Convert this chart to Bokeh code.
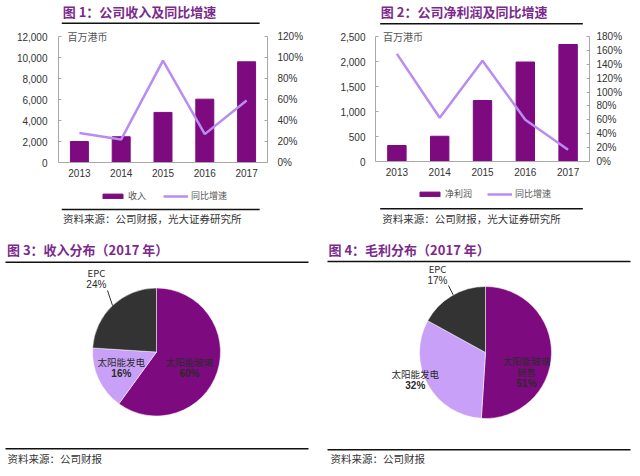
import math
from bokeh.plotting import figure
from bokeh.models import (Range1d, FactorRange, LinearAxis, NumeralTickFormatter,
                          FixedTicker, Legend, LegendItem, Span)
from bokeh.layouts import column, row
from bokeh.embed import file_html
from bokeh.resources import INLINE
from bokeh.core.properties import value

# ---------------- data ----------------
years = ["2013", "2014", "2015", "2016", "2017"]
revenue = [2000, 2450, 4770, 6030, 9590]            # 百万港币
revenue_growth = [0.28, 0.22, 0.97, 0.27, 0.59]
profit = [320, 505, 1220, 1990, 2340]               # 百万港币
profit_growth = [1.55, 0.63, 1.45, 0.60, 0.17]

revenue_ticks = [0, 2000, 4000, 6000, 8000, 10000, 12000]
revenue_pct_ticks = [0, 0.2, 0.4, 0.6, 0.8, 1.0, 1.2]
profit_ticks = [0, 500, 1000, 1500, 2000, 2500]
profit_pct_ticks = [0, 0.2, 0.4, 0.6, 0.8, 1.0, 1.2, 1.4, 1.6, 1.8]

rev_mix_names = [["太阳能玻璃"], ["太阳能发电"], ["EPC"]]
rev_mix = [60, 16, 24]
gp_mix_names = [["太阳能玻璃", "销售"], ["太阳能发电"], ["EPC"]]
gp_mix = [51, 32, 17]

titles = ["图 1：公司收入及同比增速", "图 2：公司净利润及同比增速",
          "图 3：收入分布（2017 年）", "图 4：毛利分布（2017 年）"]
sources = ["资料来源：公司财报，光大证券研究所", "资料来源：公司财报"]
unit_label = "百万港币"
series_names = ["收入", "净利润", "同比增速"]

# ---------------- style ----------------
F_CJK = "Noto Sans CJK SC"
F_NUM = "Liberation Sans"
PURPLE = "#7E0A80"
LINE_LAV = "#B98CF2"
PIE_LAV = "#C9A0F8"
DARK = "#333333"
TITLE_C = "#7B2A8C"
AXIS_C = "#A8A8A8"


def strip(W, H):
    p = figure(width=W, height=H, x_range=Range1d(0, W), y_range=Range1d(0, H),
               output_backend="svg", toolbar_location=None,
               x_axis_location=None, y_axis_location=None, min_border=0)
    p.outline_line_color = None
    p.grid.visible = False
    return p


def add_text(p, x, y, s, size, font=F_CJK, color="#333333", bold=False, align="left"):
    p.text(x=[x], y=[y], text=[s], text_font=value(font), text_font_size=value(size),
           text_font_style="bold" if bold else "normal", text_color=color,
           text_align=align, text_baseline="middle")


def rule(p, x0, x1, y, w=1.5):
    p.line(x=[x0, x1], y=[y, y], line_color="#111111", line_width=w)


def header(W, H, title, tx, ty, rx0, rx1, ry):
    p = strip(W, H)
    add_text(p, tx, H - ty, title, "13px", color=TITLE_C, bold=True)
    rule(p, rx0, rx1, H - ry)
    return p


def footer(W, H, src, tx, ty, rx0, rx1, ry):
    p = strip(W, H)
    rule(p, rx0, rx1, H - ry)
    add_text(p, tx, H - ty, src, "10.5px", color="#333333")
    return p


def bar_chart(W, H, vals, growth, yticks, pticks, bar_name, left, right,
              top_pad, plot_px, bottom_px, lstand, rstand, unit_off, lab_dy,
              leg_x, leg_y):
    # frame spans whole height (top border 1); data area is plot_px tall
    ymax, pmax = yticks[-1], pticks[-1]
    uy = ymax / plot_px
    up = pmax / plot_px
    p = figure(width=W, height=H, x_range=FactorRange(*years),
               y_range=Range1d(-bottom_px * uy, ymax + top_pad * uy),
               output_backend="svg", toolbar_location=None, x_axis_location=None,
               min_border_left=left, min_border_right=right,
               min_border_top=1, min_border_bottom=0)
    p.extra_y_ranges = {"pct": Range1d(-bottom_px * up, pmax + top_pad * up)}
    p.outline_line_color = None
    p.grid.visible = False
    p.x_range.range_padding = 0

    bars = p.vbar(x=years, top=vals, width=0.43, fill_color=PURPLE, line_color=PURPLE)
    ln = p.line(x=years, y=growth, y_range_name="pct", line_color=LINE_LAV, line_width=2.5)

    ya = p.yaxis[0]
    ya.ticker = FixedTicker(ticks=yticks)
    ya.formatter = NumeralTickFormatter(format="0,0")
    ya.bounds = (0, ymax)

    ra = LinearAxis(y_range_name="pct", ticker=FixedTicker(ticks=pticks),
                    formatter=NumeralTickFormatter(format="0%"), bounds=(0, pmax))
    p.add_layout(ra, "right")

    for ax, st in ((ya, lstand), (ra, rstand)):
        ax.axis_line_color = AXIS_C
        ax.major_tick_line_color = AXIS_C
        ax.major_tick_out = 0
        ax.major_tick_in = 3
        ax.minor_tick_line_color = None
        ax.major_label_standoff = st
        ax.major_label_text_font = F_NUM
        ax.major_label_text_font_size = "10px"
        ax.major_label_text_color = "#333333"

    # category axis line and labels (drawn through the categorical scale)
    p.add_layout(Span(location=0, dimension="width", line_color=AXIS_C, line_width=1))
    p.text(x=years, y=[-lab_dy * uy] * len(years), text=years,
           text_font=value(F_NUM), text_font_size=value("10px"), text_color="#333333",
           text_align="center", text_baseline="middle")

    p.text(x=[years[0]], y=[ymax], text=[unit_label], x_offset=unit_off,
           text_font=value(F_CJK), text_font_size=value("10px"), text_color="#555555",
           text_align="left", text_baseline="middle")

    legend = Legend(items=[LegendItem(label=bar_name, renderers=[bars]),
                           LegendItem(label=series_names[2], renderers=[ln])],
                    orientation="horizontal", location=(leg_x, leg_y),
                    glyph_width=25, glyph_height=6, label_height=10, label_standoff=3,
                    spacing=15, margin=0, padding=3, border_line_color=None,
                    background_fill_alpha=0, label_text_font=F_CJK,
                    label_text_font_size="9px", label_text_color="#555555")
    p.add_layout(legend, "center")
    return p


def pie_panel(W, H, title, tx, names, vals, cx, cy_local, r, fr, da, leader,
              t_y, r_y, s_y, sr_y, rx0, rx1, sx, src):
    p = strip(W, H)
    add_text(p, tx, H - t_y, title, "13px", color=TITLE_C, bold=True)
    rule(p, rx0, rx1, H - r_y)
    rule(p, rx0, rx1, H - sr_y)
    add_text(p, sx, H - s_y, src, "10.5px")

    cy = H - cy_local
    tot = float(sum(vals))
    starts, ends = [], []
    acc = 0.0
    for v in vals:
        starts.append(math.pi / 2 - 2 * math.pi * acc / tot)
        acc += v
        ends.append(math.pi / 2 - 2 * math.pi * acc / tot)
    p.wedge(x=[cx] * len(vals), y=[cy] * len(vals), radius=r, start_angle=starts,
            end_angle=ends, direction="clock",
            fill_color=[PURPLE, PIE_LAV, DARK], line_color="white", line_width=0.5)

    lh = 11.5
    for i, v in enumerate(vals):
        mid = (starts[i] + ends[i]) / 2
        a = mid + math.radians(da[i])
        bx = cx + r * fr[i] * math.cos(a)
        by = cy + r * fr[i] * math.sin(a)
        lines = names[i] + ["%d%%" % v]
        n = len(lines)
        last = i == len(vals) - 1
        for j, s in enumerate(lines):
            yy = by + (n - 1) / 2 * lh - j * lh
            is_pct = j == n - 1
            font = F_NUM if is_pct else F_CJK
            size = "10px" if is_pct else "9.5px"
            add_text(p, bx, yy, s, size, font=font, color="#2a2a2a", align="center",
                     bold=(is_pct and not last))
        if last:
            a1 = mid + math.radians(leader[0])
            a2 = mid + math.radians(leader[1])
            p.line(x=[cx + r * math.cos(a1), cx + r * leader[2] * math.cos(a2)],
                   y=[cy + r * math.sin(a1), cy + r * leader[2] * math.sin(a2)],
                   line_color="#333333", line_width=1)
    return p


W = 320

tl = column(
    header(W, 28, titles[0], 6.5, 10.5, 5, 308, 22.7),
    bar_chart(W, 178, revenue, revenue_growth, revenue_ticks, revenue_pct_ticks,
              series_names[0], left=58, right=53, top_pad=7, plot_px=126, bottom_px=44,
              lstand=11, rstand=10, unit_off=-12, lab_dy=10.5, leg_x=42, leg_y=4),
    footer(W, 24, sources[0], 7, 12.3, 5, 308, 3),
    spacing=0)

tr = column(
    header(W, 28, titles[1], 8, 10.5, 7, 310, 23.3),
    bar_chart(W, 178, profit, profit_growth, profit_ticks, profit_pct_ticks,
              series_names[1], left=55, right=51, top_pad=7, plot_px=125, bottom_px=45,
              lstand=10, rstand=7, unit_off=-14, lab_dy=10.7, leg_x=42, leg_y=6),
    footer(W, 24, sources[0], 10, 12, 7, 310, 2.3),
    spacing=0)

bl = pie_panel(W, 246, titles[2], 6.5, rev_mix_names, rev_mix, 156, 121.5, 64,
               fr=[0.57, 0.6, 1.48], da=[-7.6, -1.5, -3.8], leader=[0.2, -4.7, 1.23],
               t_y=19, r_y=31.7, s_y=228.3, sr_y=218.3, rx0=5, rx1=308, sx=7,
               src=sources[1])
br = pie_panel(W, 246, titles[3], 8, gp_mix_names, gp_mix, 165, 122, 66,
               fr=[0.69, 1.14, 1.38], da=[-23.9, -7.7, 1.2], leader=[-1.3, -1.7, 1.16],
               t_y=19, r_y=31, s_y=228.3, sr_y=219.3, rx0=7, rx1=310, sx=10,
               src=sources[1])

layout = column(row(tl, tr, spacing=0), row(bl, br, spacing=0), spacing=0)

open("out.html", "w").write(file_html(layout, INLINE))
